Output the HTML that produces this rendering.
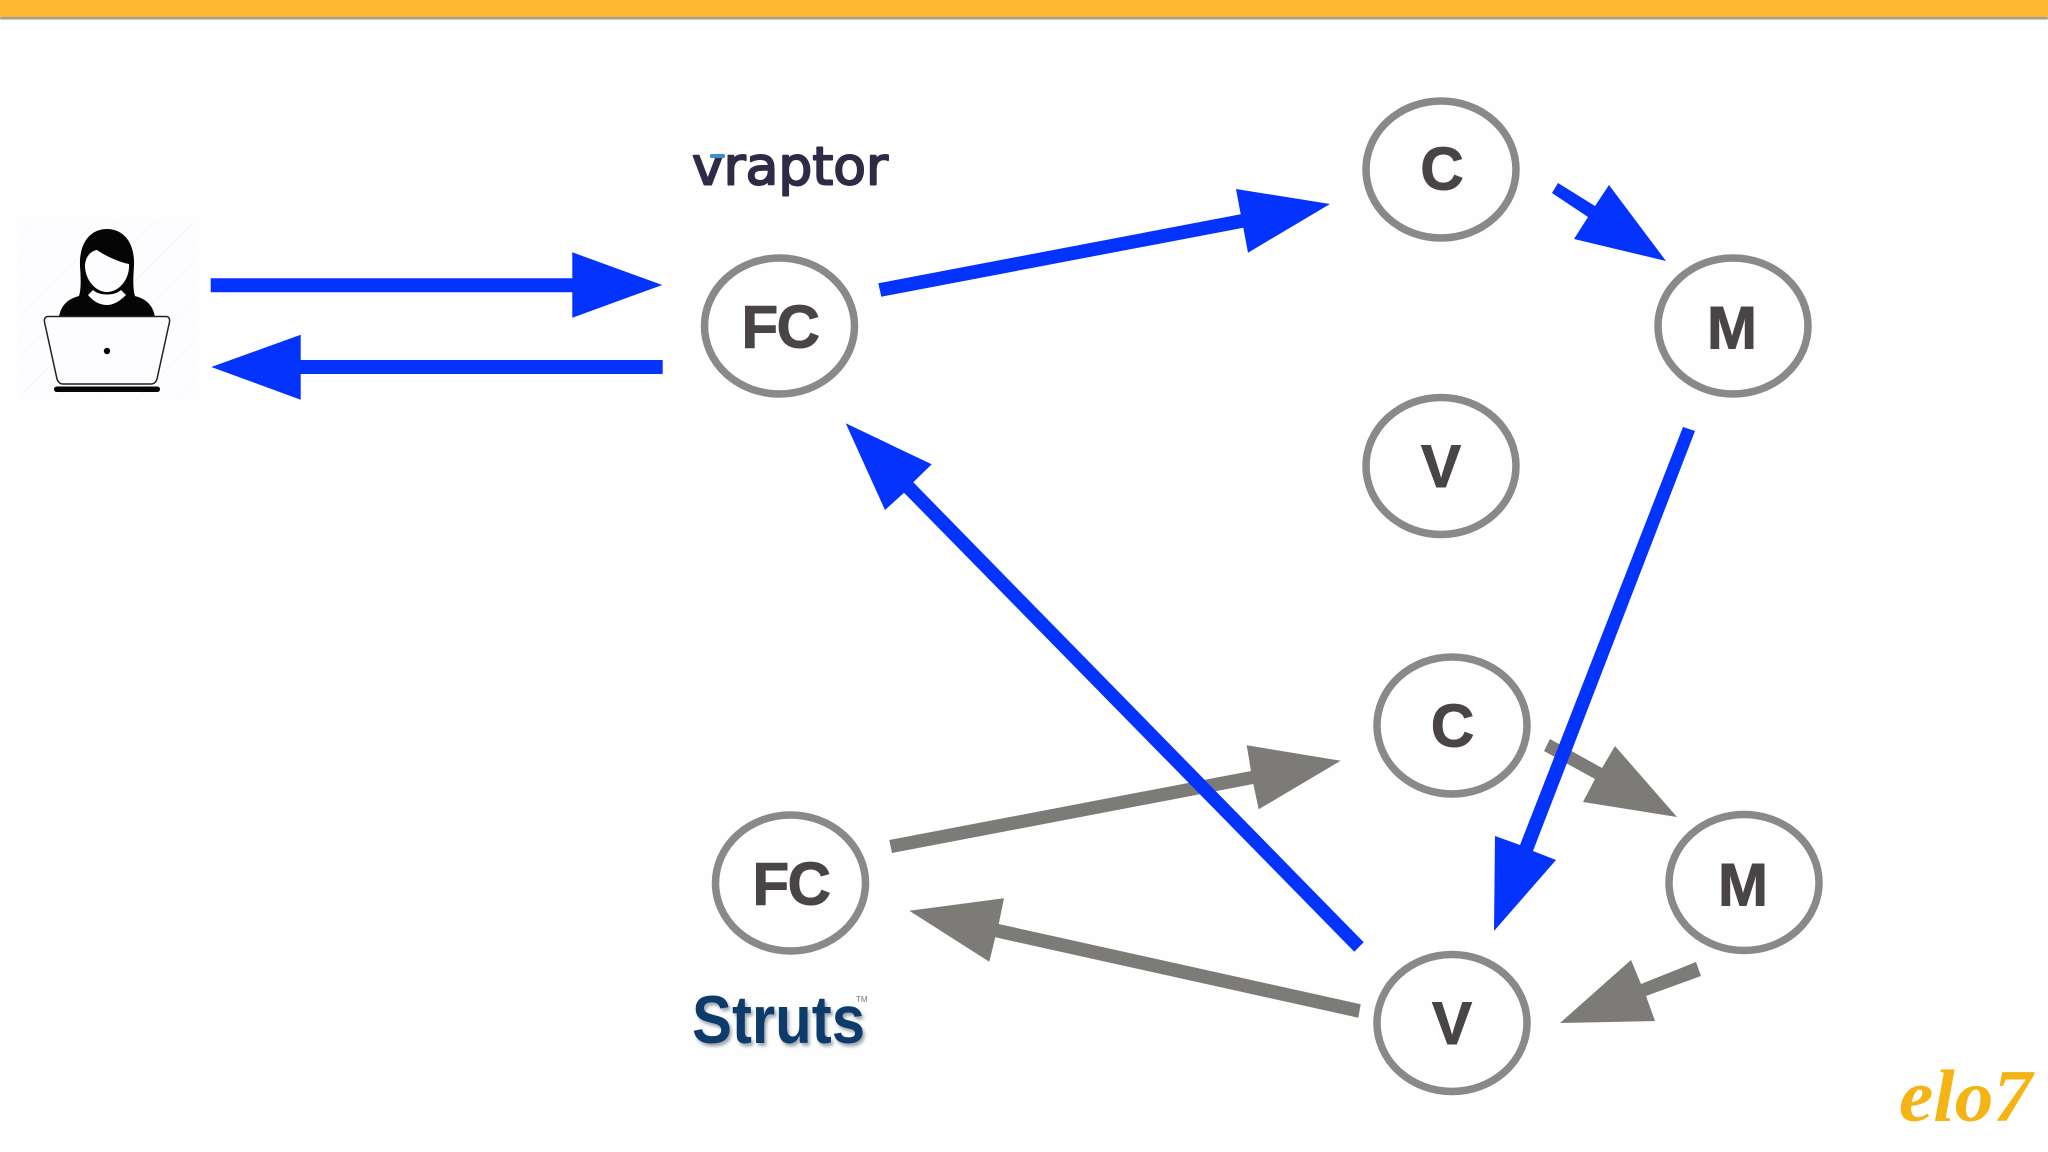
<!DOCTYPE html>
<html>
<head>
<meta charset="utf-8">
<style>
html,body{margin:0;padding:0;background:#fefefe;width:2048px;height:1152px;overflow:hidden}
svg{display:block}
</style>
</head>
<body>
<svg width="2048" height="1152" viewBox="0 0 2048 1152" xmlns="http://www.w3.org/2000/svg">
<defs>
<filter id="sh" x="-10%" y="-10%" width="120%" height="130%"><feDropShadow dx="2" dy="3" stdDeviation="1.5" flood-color="#7f8a94" flood-opacity=".75"/></filter>
<filter id="bl" x="-5%" y="-50%" width="110%" height="200%"><feGaussianBlur stdDeviation=".6"/></filter>
<pattern id="hatch" width="14" height="14" patternUnits="userSpaceOnUse" patternTransform="rotate(45)"><rect width="14" height="14" fill="#fdfcfe"/><line x1="0" y1="0" x2="0" y2="14" stroke="#f4f2f6" stroke-width="1"/></pattern>
</defs>
<rect width="2048" height="1152" fill="#fefefe"/>
<!-- top bar -->
<rect x="0" y="16" width="2048" height="3.500" fill="#a09d92" filter="url(#bl)"/>
<rect x="0" y="0" width="2048" height="17" fill="#fdb834"/>

<!-- person -->
<rect x="18" y="222" width="178" height="178" fill="url(#hatch)"/>
<path d="M59 317C61 305 68 299 79 296C81 290 81 280 80 266C79 242 91 229 107 229C123 229 135 242 134 266C133 280 133 290 135 296C146 299 153 305 155 317Z" fill="#050505"/>
<path d="M97 250C104 255 118 262 129 264C130 278 120 292 107 292C95 292 85 279 85 266C85 258 90 251 97 250Z" fill="#fdfcfe"/>
<path d="M93 290C99 296 115 296 121 290L126 295C119 302 113 305 107 305C100 305 94 302 88 295Z" fill="#fdfcfe"/>
<path d="M48 316.500H166C169 316.500 170 319 169.500 322L157 379C156 382 154 384 151 384H63C60 384 58 382 57 379L44.500 322C44 319 45 316.500 48 316.500Z" fill="#fdfcfe" stroke="#222" stroke-width="1.500"/>
<circle cx="107" cy="351" r="3.200" fill="#050505"/>
<rect x="54" y="386.500" width="106" height="5.500" rx="2.700" fill="#050505"/>

<!-- gray arrows -->
<g fill="#7d7b77">
<polygon points="889.300,840 1251,771 1246.700,745.300 1340.700,760.700 1258.700,809.300 1253.300,784 892,853"/>
<polygon points="1544,751 1550,739 1602,768 1615,746 1677,817 1583,802 1595,779"/>
<polygon points="1696,962 1701,976 1646,996 1655,1021 1560,1023 1631,960 1641,984"/>
<polygon points="909.300,910.700 1004,898.300 998.700,924 1360.700,1004.300 1358.300,1017.700 995.300,937.300 989.300,961.700"/>
</g>

<!-- blue arrows -->
<g fill="#0433fd">
<polygon points="210.700,278.300 572.300,278.300 572.300,252.300 662.300,285 572.300,317.700 572.300,292.300 210.700,292.300"/>
<polygon points="211.300,367 300.700,334.700 300.700,360 662.700,360 662.700,374 300.700,374 300.700,399.700"/>
<polygon points="878.300,283.300 1240.700,214.300 1236,189 1330,204 1248,252.700 1243.300,227.700 881.300,296.700"/>
<polygon points="1552,193 1558,183 1595,206 1609,185 1666,261 1574,239 1588,217"/>
<polygon points="1695,431 1683,427 1520,845 1495,836 1494,931 1556,860 1533,851"/>
<polygon points="845.700,423.300 931.700,464.300 913.300,482.300 1363.700,942.300 1354.300,951.700 904,492.700 885,510"/>
</g>

<!-- nodes -->
<g fill="#fefefe" stroke="#87898b" stroke-width="7.500">
<ellipse cx="779.500" cy="326" rx="75" ry="68"/>
<ellipse cx="1441" cy="169.500" rx="75" ry="68.500"/>
<ellipse cx="1733" cy="326" rx="75" ry="68"/>
<ellipse cx="1441" cy="466" rx="75" ry="68.500"/>
<ellipse cx="1452" cy="725.500" rx="75" ry="68.500"/>
<ellipse cx="1744" cy="882.500" rx="75" ry="68"/>
<ellipse cx="1452" cy="1023" rx="75" ry="68.500"/>
<ellipse cx="790.500" cy="883" rx="75" ry="68"/>
</g>
<g font-family="'Liberation Sans',sans-serif" font-weight="700" font-size="60" fill="#4a4545" stroke="#4a4545" stroke-width="1" text-anchor="middle">
<text x="780" y="347.500" letter-spacing="-1.500">FC</text>
<text x="1442" y="189.500">C</text>
<text x="1732" y="348.500">M</text>
<text x="1441" y="487">V</text>
<text x="1452.500" y="746.500">C</text>
<text x="1743" y="905.500">M</text>
<text x="1452" y="1044">V</text>
<text x="791" y="904.500" letter-spacing="-1.500">FC</text>
</g>

<!-- logos -->
<text x="692" y="184.500" font-family="'DejaVu Sans',sans-serif" font-size="53" fill="#2d2b45" stroke="#2d2b45" stroke-width="2" stroke-linejoin="round" textLength="196" lengthAdjust="spacingAndGlyphs">vraptor</text>
<rect x="710" y="154" width="15" height="4" rx="1.500" fill="#3f8fd0"/>

<text x="692" y="1043" font-family="'Liberation Sans',sans-serif" font-weight="700" font-size="68" fill="#0f3a6b" filter="url(#sh)" textLength="173" lengthAdjust="spacingAndGlyphs">Struts</text>
<text x="856" y="1002" font-family="'Liberation Sans',sans-serif" font-size="8" fill="#777">TM</text>

<text x="1899" y="1121" font-family="'Liberation Serif',serif" font-style="italic" font-weight="700" font-size="74" fill="#f4b414" textLength="133" lengthAdjust="spacingAndGlyphs">elo7</text>
</svg>
</body>
</html>
